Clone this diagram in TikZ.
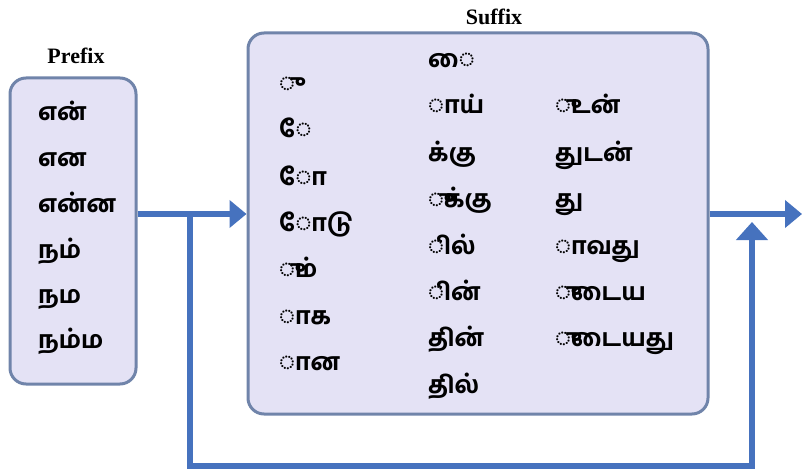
\documentclass[tikz,border=0pt]{standalone}
\usepackage{fontspec}
\usepackage{xcolor}
\usetikzlibrary{arrows.meta}
\setmainfont{Liberation Serif}
\newfontfamily\tamilfont[Script=Tamil, BoldFont={Hind Madurai Bold}]{Hind Madurai}
\definecolor{boxfill}{RGB}{228,226,245}
\definecolor{boxline}{RGB}{112,132,170}
\definecolor{flowblue}{RGB}{70,114,190}

\begin{document}
\begin{tikzpicture}[x=1pt, y=-1pt,
  box/.style={draw=boxline, line width=3pt, fill=boxfill, rounded corners=16pt, inner sep=0pt},
  title/.style={font=\fontsize{22}{26}\selectfont\bfseries},
  word/.style={anchor=base west, inner sep=0pt, font=\tamilfont\fontsize{24}{28}\selectfont\bfseries},
  flow/.style={draw=flowblue, line width=6pt, -{Triangle[length=17pt,width=27pt]}}]
\useasboundingbox (0,0) rectangle (803,476);
% Boxes
\node[box, minimum width=126pt, minimum height=306pt] (prefix) at (73,231) {};
\node[box, minimum width=460pt, minimum height=381pt] (suffix) at (478,223.5) {};
\node[title] (prefixtitle) at (76,56) {Prefix};
\node[title] (suffixtitle) at (494,17) {Suffix};
% Prefix words
\node[word] (p1) at (38,121) {என்};
\node[word] (p2) at (38,166) {என};
\node[word] (p3) at (38,212) {என்ன};
\node[word] (p4) at (38,258) {நம்};
\node[word] (p5) at (38,303) {நம};
\node[word] (p6) at (38,348) {நம்ம};
% Suffix words, first column
\node[word] (s11) at (279,92) {◌ு};
\node[word] (s12) at (279,138) {◌ே};
\node[word] (s13) at (279,185) {◌ோ};
\node[word] (s14) at (279,231) {◌ோடு};
\node[word] (s15) at (279,277) {◌ும்};
\node[word] (s16) at (279,324) {◌ாக};
\node[word] (s17) at (279,370) {◌ான};
% second column
\node[word] (s21) at (428,68) {◌ை};
\node[word] (s22) at (428,114) {◌ாய்};
\node[word] (s23) at (428,161) {க்கு};
\node[word] (s24) at (428,207) {◌ுக்கு};
\node[word] (s25) at (428,254) {◌ில்};
\node[word] (s26) at (428,300) {◌ின்};
\node[word] (s27) at (428,346) {தின்};
\node[word] (s28) at (428,393) {தில்};
% third column
\node[word] (s31) at (555,114) {◌ுடன்};
\node[word] (s32) at (555,161) {துடன்};
\node[word] (s33) at (555,207) {து};
\node[word] (s34) at (555,254) {◌ாவது};
\node[word] (s35) at (555,300) {◌ுடைய};
\node[word] (s36) at (555,346) {◌ுடையது};
% Arrows
\coordinate (split) at (190,214);
\coordinate (output) at (802,214);
\coordinate (loopin) at (752,222);
\draw[flow] (prefix.east |- split) -- (suffix.west |- split);
\draw[flow] (suffix.east |- split) -- (output);
\draw[flow, -{Triangle[length=18pt,width=31pt]}] (split) -- (190,466) -| (loopin);
\end{tikzpicture}
\end{document}
